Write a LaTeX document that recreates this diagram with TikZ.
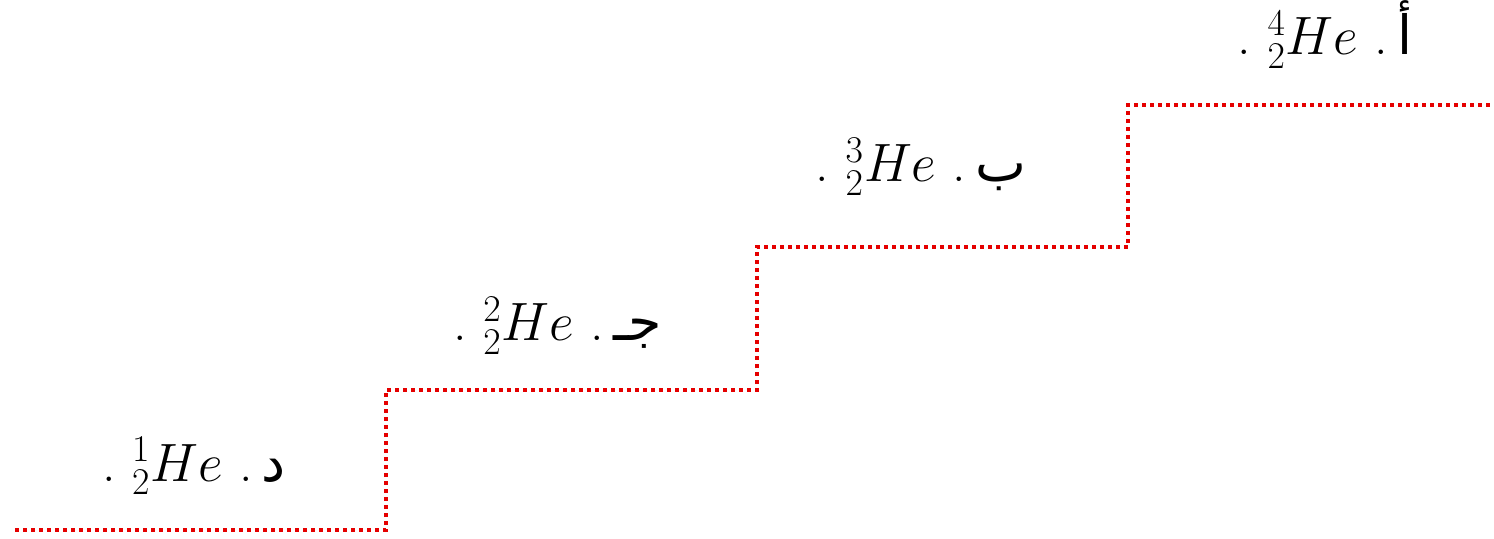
\RequirePackage{fix-cm}
\documentclass[tikz,border=0pt]{standalone}
\usepackage{fontspec}
\newfontfamily\arabicfont[Script=Arabic]{DejaVu Sans}
\TeXXeTstate=1

\begin{document}
\begin{tikzpicture}[x=0.5pt, y=-0.5pt,
  stair/.style={draw=red!90!black, line width=2pt, dash pattern=on 2pt off 2pt},
  choice/.style={anchor=base, inner sep=0pt, font=\fontsize{27}{31}\selectfont}
]
  \useasboundingbox (0,0) rectangle (1494,539);

  % staircase corners
  \coordinate (s0) at (15,530);
  \coordinate (s1) at (386,390);
  \coordinate (s2) at (757,247);
  \coordinate (s3) at (1128,105);
  \coordinate (s4) at (1494,105);

  \draw[stair] (s0) -| (s1) -| (s2) -| (s3) -- (s4);

  % one choice on each step
  \node[choice] (dal) at (194,481) {.\ $^{1}_{2}He$\ .\,{\arabicfont\beginR د\endR}};
  \node[choice] (jim) at (558,341) {.\ $^{2}_{2}He$\ .\,{\arabicfont\beginR جـ\endR}};
  \node[choice] (ba) at (921,182) {.\ $^{3}_{2}He$\ .\,{\arabicfont\beginR ب\endR}};
  \node[choice] (alif) at (1325,55) {.\ $^{4}_{2}He$\ .\,{\arabicfont\beginR أ\endR}};
\end{tikzpicture}
\end{document}
